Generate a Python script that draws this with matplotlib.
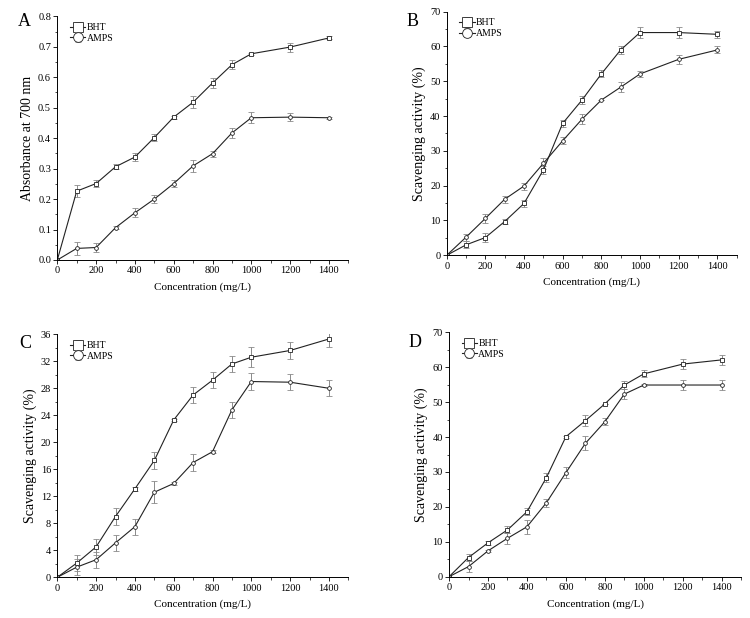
import numpy as np
import matplotlib
matplotlib.use("Agg")
import matplotlib.pyplot as plt
from matplotlib.ticker import MultipleLocator

plt.rcParams["font.family"] = ["Liberation Serif", "DejaVu Serif"]

conc = [0, 100, 200, 300, 400, 500, 600, 700, 800, 900, 1000, 1200, 1400]

# panel A - reducing power
a_bht = [0, 0.226, 0.251, 0.306, 0.338, 0.402, 0.469, 0.518, 0.581, 0.641, 0.677, 0.699, 0.729]
a_bht_err = [0, 0.02, 0.01, 0.008, 0.012, 0.01, 0.005, 0.02, 0.015, 0.015, 0.004, 0.015, 0.005]
a_amps = [0, 0.038, 0.041, 0.106, 0.155, 0.200, 0.251, 0.309, 0.349, 0.417, 0.467, 0.469, 0.467]
a_amps_err = [0, 0.02, 0.015, 0.005, 0.015, 0.012, 0.01, 0.02, 0.01, 0.015, 0.018, 0.012, 0.004]

# panel B
b_bht = [0, 3.0, 5.1, 9.7, 14.9, 24.5, 37.9, 44.6, 52.1, 59.0, 64.0, 64.0, 63.5]
b_bht_err = [0, 1.0, 1.2, 0.8, 1.0, 1.2, 1.0, 1.2, 1.0, 1.2, 1.5, 1.5, 1.0]
b_amps = [0, 5.2, 10.6, 16.1, 19.9, 26.4, 32.9, 39.1, 44.6, 48.3, 52.1, 56.3, 59.0]
b_amps_err = [0, 1.0, 1.2, 1.0, 1.0, 1.5, 1.0, 1.5, 0, 1.5, 0.8, 1.2, 1.0]

# panel C
c_bht = [0, 2.1, 4.5, 9.0, 13.1, 17.3, 23.3, 27.0, 29.2, 31.6, 32.6, 33.6, 35.3]
c_bht_err = [0, 1.2, 1.2, 1.3, 0.3, 1.3, 0.2, 1.2, 1.2, 1.2, 1.5, 1.2, 1.2]
c_amps = [0, 1.5, 2.6, 5.1, 7.5, 12.6, 13.9, 17.0, 18.6, 24.8, 29.0, 28.9, 28.0]
c_amps_err = [0, 1.2, 1.2, 1.2, 1.2, 1.6, 0.2, 1.2, 0.2, 1.2, 1.2, 1.2, 1.2]

# panel D
d_bht = [0, 5.5, 9.7, 13.4, 18.6, 28.4, 40.1, 44.7, 49.5, 54.9, 58.1, 60.9, 62.1]
d_bht_err = [0, 1.0, 0.5, 1.0, 1.0, 1.2, 0.3, 1.5, 0, 1.2, 1.0, 1.5, 1.5]
d_amps = [0, 2.9, 7.4, 11.0, 14.3, 21.2, 29.8, 38.2, 44.4, 52.3, 54.9, 54.9, 54.9]
d_amps_err = [0, 1.5, 0.3, 1.5, 2.0, 1.2, 1.5, 2.0, 1.0, 1.5, 0.3, 1.5, 1.5]

panels = [
    ("A", a_bht, a_bht_err, a_amps, a_amps_err, 0.8, 0.1, "Absorbance at 700 nm",
     [0.0764, 0.5793, 0.388, 0.3943], (-0.135, 0.98)),
    ("B", b_bht, b_bht_err, b_amps, b_amps_err, 70, 10, "Scavenging activity (%)",
     [0.5956, 0.5869, 0.3865, 0.3942], (-0.14, 0.96)),
    ("C", c_bht, c_bht_err, c_amps, c_amps_err, 36, 4, "Scavenging activity (%)",
     [0.0764, 0.0659, 0.388, 0.3932], (-0.13, 0.96)),
    ("D", d_bht, d_bht_err, d_amps, d_amps_err, 70, 10, "Scavenging activity (%)",
     [0.5987, 0.0668, 0.3896, 0.3955], (-0.14, 0.96)),
]

fig = plt.figure(figsize=(7.5, 6.18), dpi=100)

for letter, y1, e1, y2, e2, ymax, ystep, ylab, pos, lpos in panels:
    ax = fig.add_axes(pos)
    ax.errorbar(conc, y1, yerr=e1, color="#222222", lw=0.8, marker="s", ms=2.7,
                mfc="white", mec="#222222", mew=0.6, ecolor="#8a8a8a", elinewidth=0.7,
                capsize=2, capthick=0.7, label="BHT")
    ax.errorbar(conc, y2, yerr=e2, color="#222222", lw=0.8, marker="o", ms=2.7,
                mfc="white", mec="#222222", mew=0.6, ecolor="#8a8a8a", elinewidth=0.7,
                capsize=2, capthick=0.7, label="AMPS")
    ax.set_xlim(0, 1500)
    ax.set_ylim(0, ymax)
    ax.xaxis.set_major_locator(MultipleLocator(200))
    ax.xaxis.set_minor_locator(MultipleLocator(100))
    ax.yaxis.set_major_locator(MultipleLocator(ystep))
    ax.yaxis.set_minor_locator(MultipleLocator(ystep / 2))
    if letter == "A":
        ax.yaxis.set_major_formatter(plt.FormatStrFormatter("%.1f"))
    ax.spines["top"].set_visible(False)
    ax.spines["right"].set_visible(False)
    for s in ("left", "bottom"):
        ax.spines[s].set_linewidth(0.7)
    ax.tick_params(which="major", direction="out", length=3, width=0.6, labelsize=7.5, pad=1.5)
    ax.tick_params(which="minor", direction="out", length=1.8, width=0.5)
    ax.set_xlabel("Concentration (mg/L)", fontsize=8, labelpad=5)
    ax.set_ylabel(ylab, fontsize=10, labelpad=3)
    ax.text(lpos[0], lpos[1], letter, transform=ax.transAxes, fontsize=13,
            ha="left", va="center")
    ax.legend(loc="upper left", bbox_to_anchor=(0.02, 1.0), frameon=False,
              fontsize=7, markerscale=2.6, handlelength=1.6, handletextpad=0.1,
              labelspacing=0.15, borderaxespad=0.3)

fig.savefig("out.png", dpi=100)
